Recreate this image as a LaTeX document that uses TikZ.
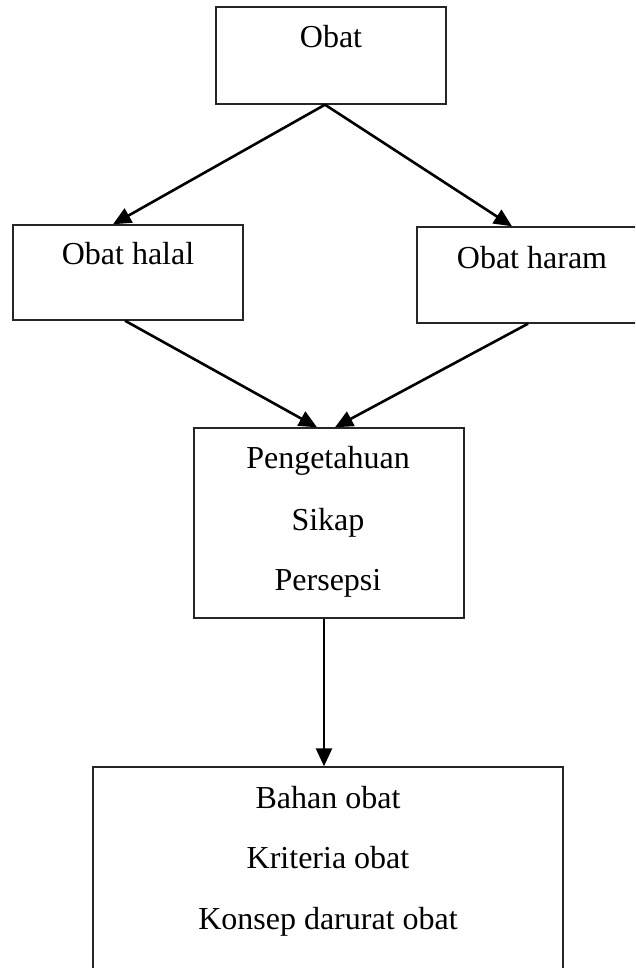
\documentclass[tikz,border=0pt]{standalone}
\usepackage{fontspec}
\setmainfont{Liberation Serif}
\usetikzlibrary{arrows.meta}
\begin{document}
\begin{tikzpicture}[x=1pt,y=-1pt,
  box/.style={draw=black!85, line width=1.4pt, rectangle, inner sep=0pt},
  txt/.style={anchor=base, inner sep=0pt, font=\fontsize{32}{38}\selectfont},
  conn/.style={line width=2.6pt, -{Triangle[length=18pt,width=16pt]}}]
\path[use as bounding box] (0,0) rectangle (635,968);
\clip (0,0) rectangle (635,968);
% boxes
\node[box, minimum width=230pt, minimum height=97pt] (obat) at (331,55.5) {};
\node[box, minimum width=230pt, minimum height=95pt] (halal) at (128,272.5) {};
\node[box, minimum width=230pt, minimum height=96pt] (haram) at (532,275) {};
\node[box, minimum width=270pt, minimum height=190pt] (mid) at (329,523) {};
\node[box, minimum width=470pt, minimum height=223pt] (bot) at (328,878.5) {};
% texts
\node[txt] (tobat) at (331,48) {Obat};
\node[txt] (thalal) at (128,264) {Obat halal};
\node[txt] (tharam) at (532,268) {Obat haram};
\node[txt] (tm1) at (328,468) {Pengetahuan};
\node[txt] (tm2) at (328,530) {Sikap};
\node[txt] (tm3) at (328,590) {Persepsi};
\node[txt] (tb1) at (328,808) {Bahan obat};
\node[txt] (tb2) at (328,868) {Kriteria obat};
\node[txt] (tb3) at (328,929) {Konsep darurat obat};
% connectors
\draw[conn] ([xshift=-6pt]obat.south) -- ([xshift=-15pt]halal.north);
\draw[conn] ([xshift=-6pt]obat.south) -- ([xshift=-20pt]haram.north);
\draw[conn] ([xshift=-3pt]halal.south) -- ([xshift=-12pt]mid.north);
\draw[conn] ([xshift=-4pt]haram.south) -- ([xshift=6pt]mid.north);
\draw[conn] ([xshift=-5pt]mid.south) -- ([xshift=-4pt]bot.north);
\end{tikzpicture}
\end{document}
